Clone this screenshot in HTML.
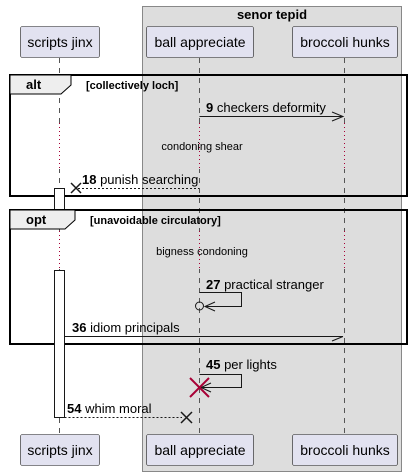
<!DOCTYPE html>
<html><head><style>body{margin:0;background:#fff}svg{display:block}text{font-family:"Liberation Sans",sans-serif}</style></head>
<body>
<svg width="412" height="476" viewBox="0 0 412 476" xmlns="http://www.w3.org/2000/svg">
<rect x="142.5" y="6.5" width="259" height="465" fill="#DDDDDD" stroke="#888" stroke-width="1"/>
<text x="272" y="19" font-size="13" font-weight="bold" text-anchor="middle">senor tepid</text>
<g stroke="#555" stroke-dasharray="5,5" stroke-width="1">
<line x1="59.5" y1="58" x2="59.5" y2="434"/>
<line x1="199.5" y1="58" x2="199.5" y2="434"/>
<line x1="344.5" y1="58" x2="344.5" y2="434"/>
</g>
<rect x="10" y="75" width="397" height="121" fill="none" stroke="#000" stroke-width="2"/>
<path d="M10 75 H71 V85 L61 94 H10 Z" fill="#EEEEEE" stroke="#000" stroke-width="1"/>
<text x="26" y="89" font-size="13" font-weight="bold">alt</text>
<text x="86" y="89" font-size="11" font-weight="bold">[collectively loch]</text>
<rect x="57" y="123" width="5" height="46" fill="#fff"/>
<g fill="#DDDDDD"><rect x="197" y="123" width="5" height="46"/><rect x="342" y="123" width="5" height="46"/></g>
<g stroke="#A80036" stroke-dasharray="1,3"><line x1="59.5" y1="123" x2="59.5" y2="169"/><line x1="199.5" y1="123" x2="199.5" y2="169"/><line x1="344.5" y1="123" x2="344.5" y2="169"/></g>
<text x="202" y="150" font-size="11" text-anchor="middle">condoning shear</text>
<line x1="199.5" y1="116.5" x2="343" y2="116.5" stroke="#181818"/>
<path d="M332 112 L343 116.5 L332 121" fill="none" stroke="#181818"/>
<text x="206" y="112" font-size="13"><tspan font-weight="bold">9</tspan> checkers deformity</text>
<line x1="78" y1="188.5" x2="199" y2="188.5" stroke="#181818" stroke-dasharray="2,2"/>
<path d="M71 183 L81 193 M71 193 L81 183" stroke="#181818" stroke-width="1.5"/>
<text x="82" y="184" font-size="13"><tspan font-weight="bold">18</tspan> punish searching</text>
<rect x="54.5" y="188.5" width="10" height="21" fill="#fff" stroke="#181818"/>
<rect x="10" y="210" width="397" height="134" fill="none" stroke="#000" stroke-width="2"/>
<rect x="54.5" y="270.5" width="10" height="147" fill="#fff" stroke="#181818"/>
<path d="M10 210 H75 V220 L65 229 H10 Z" fill="#EEEEEE" stroke="#000" stroke-width="1"/>
<text x="26" y="224" font-size="13" font-weight="bold">opt</text>
<text x="90" y="224" font-size="11" font-weight="bold">[unavoidable circulatory]</text>
<rect x="57" y="231" width="5" height="38" fill="#fff"/>
<g fill="#DDDDDD"><rect x="197" y="231" width="5" height="38"/><rect x="342" y="231" width="5" height="38"/></g>
<g stroke="#A80036" stroke-dasharray="1,3"><line x1="59.5" y1="231" x2="59.5" y2="269"/><line x1="199.5" y1="231" x2="199.5" y2="269"/><line x1="344.5" y1="231" x2="344.5" y2="269"/></g>
<text x="202" y="255" font-size="11" text-anchor="middle">bigness condoning</text>
<path d="M199.5 292.5 H241.5 V306.5 H205" fill="none" stroke="#181818"/>
<path d="M215 302 L205 306.5 L215 311" fill="none" stroke="#181818"/>
<circle cx="199.5" cy="306" r="4" fill="none" stroke="#181818"/>
<text x="206" y="289" font-size="13"><tspan font-weight="bold">27</tspan> practical stranger</text>
<line x1="64.5" y1="336.5" x2="343" y2="336.5" stroke="#181818"/>
<path d="M332 341 L343 336.5" stroke="#181818"/>
<text x="72" y="332" font-size="13"><tspan font-weight="bold">36</tspan> idiom principals</text>
<path d="M199.5 374.5 H241.5 V387.5 H201" fill="none" stroke="#181818"/>
<path d="M211 383 L201 387.5 L211 392" fill="none" stroke="#181818"/>
<path d="M190 378 L209 397 M190 397 L209 378" stroke="#A80036" stroke-width="2"/>
<text x="206" y="369" font-size="13"><tspan font-weight="bold">45</tspan> per lights</text>
<line x1="64.5" y1="417.5" x2="182" y2="417.5" stroke="#181818" stroke-dasharray="2,2"/>
<path d="M181 412 L192 423 M181 423 L192 412" stroke="#181818" stroke-width="1.5"/>
<text x="67" y="413" font-size="13"><tspan font-weight="bold">54</tspan> whim moral</text>
<g fill="#E2E2F0" stroke="#181818" stroke-width="0.6">
<rect x="20.5" y="26.5" width="79" height="31" rx="2"/>
<rect x="146.5" y="26.5" width="107" height="31" rx="2"/>
<rect x="292.5" y="26.5" width="105" height="31" rx="2"/>
<rect x="20.5" y="434.5" width="79" height="31" rx="2"/>
<rect x="146.5" y="434.5" width="107" height="31" rx="2"/>
<rect x="292.5" y="434.5" width="105" height="31" rx="2"/>
</g>
<g font-size="14" text-anchor="middle">
<text x="60" y="47">scripts jinx</text><text x="200" y="47">ball appreciate</text><text x="345" y="47">broccoli hunks</text>
<text x="60" y="455">scripts jinx</text><text x="200" y="455">ball appreciate</text><text x="345" y="455">broccoli hunks</text>
</g>
</svg>
</body></html>
